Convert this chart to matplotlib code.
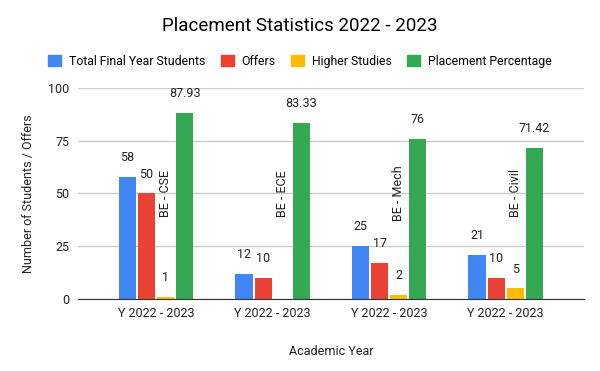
import numpy as np
import matplotlib.pyplot as plt
from matplotlib.patches import Patch

plt.rcParams['font.family'] = ['Roboto', 'DejaVu Sans']

years = ['Y 2022 - 2023', 'Y 2022 - 2023', 'Y 2022 - 2023', 'Y 2022 - 2023']
branches = ['BE - CSE', 'BE - ECE', 'BE - Mech', 'BE - Civil']
total_students = [58, 12, 25, 21]
offers = [50, 10, 17, 10]
higher_studies = [1, 0, 2, 5]
placement_pct = [87.93, 83.33, 76, 71.42]

series = [
    ('Total Final Year Students', total_students, '#4285F4'),
    ('Offers', offers, '#EA4335'),
    ('Higher Studies', higher_studies, '#FBBC04'),
    ('Placement Percentage', placement_pct, '#34A853'),
]

fig = plt.figure(figsize=(6, 3.71), dpi=100)
ax = fig.add_axes([0.13, 0.194, 0.843, 0.569])

x = np.arange(len(years))
step = 0.164
width = 0.147
for i, (name, vals, col) in enumerate(series):
    pos = x + (i - 1.5) * step
    ax.bar(pos, vals, width, color=col, zorder=3)
    for p, v in zip(pos, vals):
        if v == 0:
            continue
        ax.annotate(f'{v:g}', (p, v), xytext=(0, 14), textcoords='offset points',
                    ha='center', va='center', fontsize=9, color='#222222')

for xi, b in zip(x + 0.5 * step, branches):
    ax.text(xi, 50, b, rotation=90, ha='center', va='center', fontsize=9, color='#222222')

ax.set_xlim(-0.67, 3.67)
ax.set_ylim(0, 100)
ax.set_yticks([0, 25, 50, 75, 100])
ax.set_xticks(x)
ax.set_xticklabels(years)
ax.tick_params(length=0, labelsize=9, colors='#222222')
ax.tick_params(axis='y', pad=6)
ax.tick_params(axis='x', pad=6)
ax.grid(axis='y', color='#cccccc', linewidth=1, zorder=0)
for s in ['top', 'right', 'left']:
    ax.spines[s].set_visible(False)
ax.spines['bottom'].set_color('#333333')
ax.spines['bottom'].set_zorder(4)

ax.set_xlabel('Academic Year', fontsize=9, color='#222222', labelpad=18)
ax.set_ylabel('Number of Students / Offers', fontsize=9, color='#222222', labelpad=10)

fig.suptitle('Placement Statistics 2022 - 2023', fontsize=13.5, y=0.955, color='#000000')

handles = [Patch(color=c, label=n) for n, _, c in series]
fig.legend(handles=handles, loc='center', bbox_to_anchor=(0.5, 0.835), ncol=4,
           frameon=False, fontsize=8.8, handlelength=1.05, handleheight=1.05,
           handletextpad=0.65, columnspacing=1.25)

fig.savefig('out.png')
